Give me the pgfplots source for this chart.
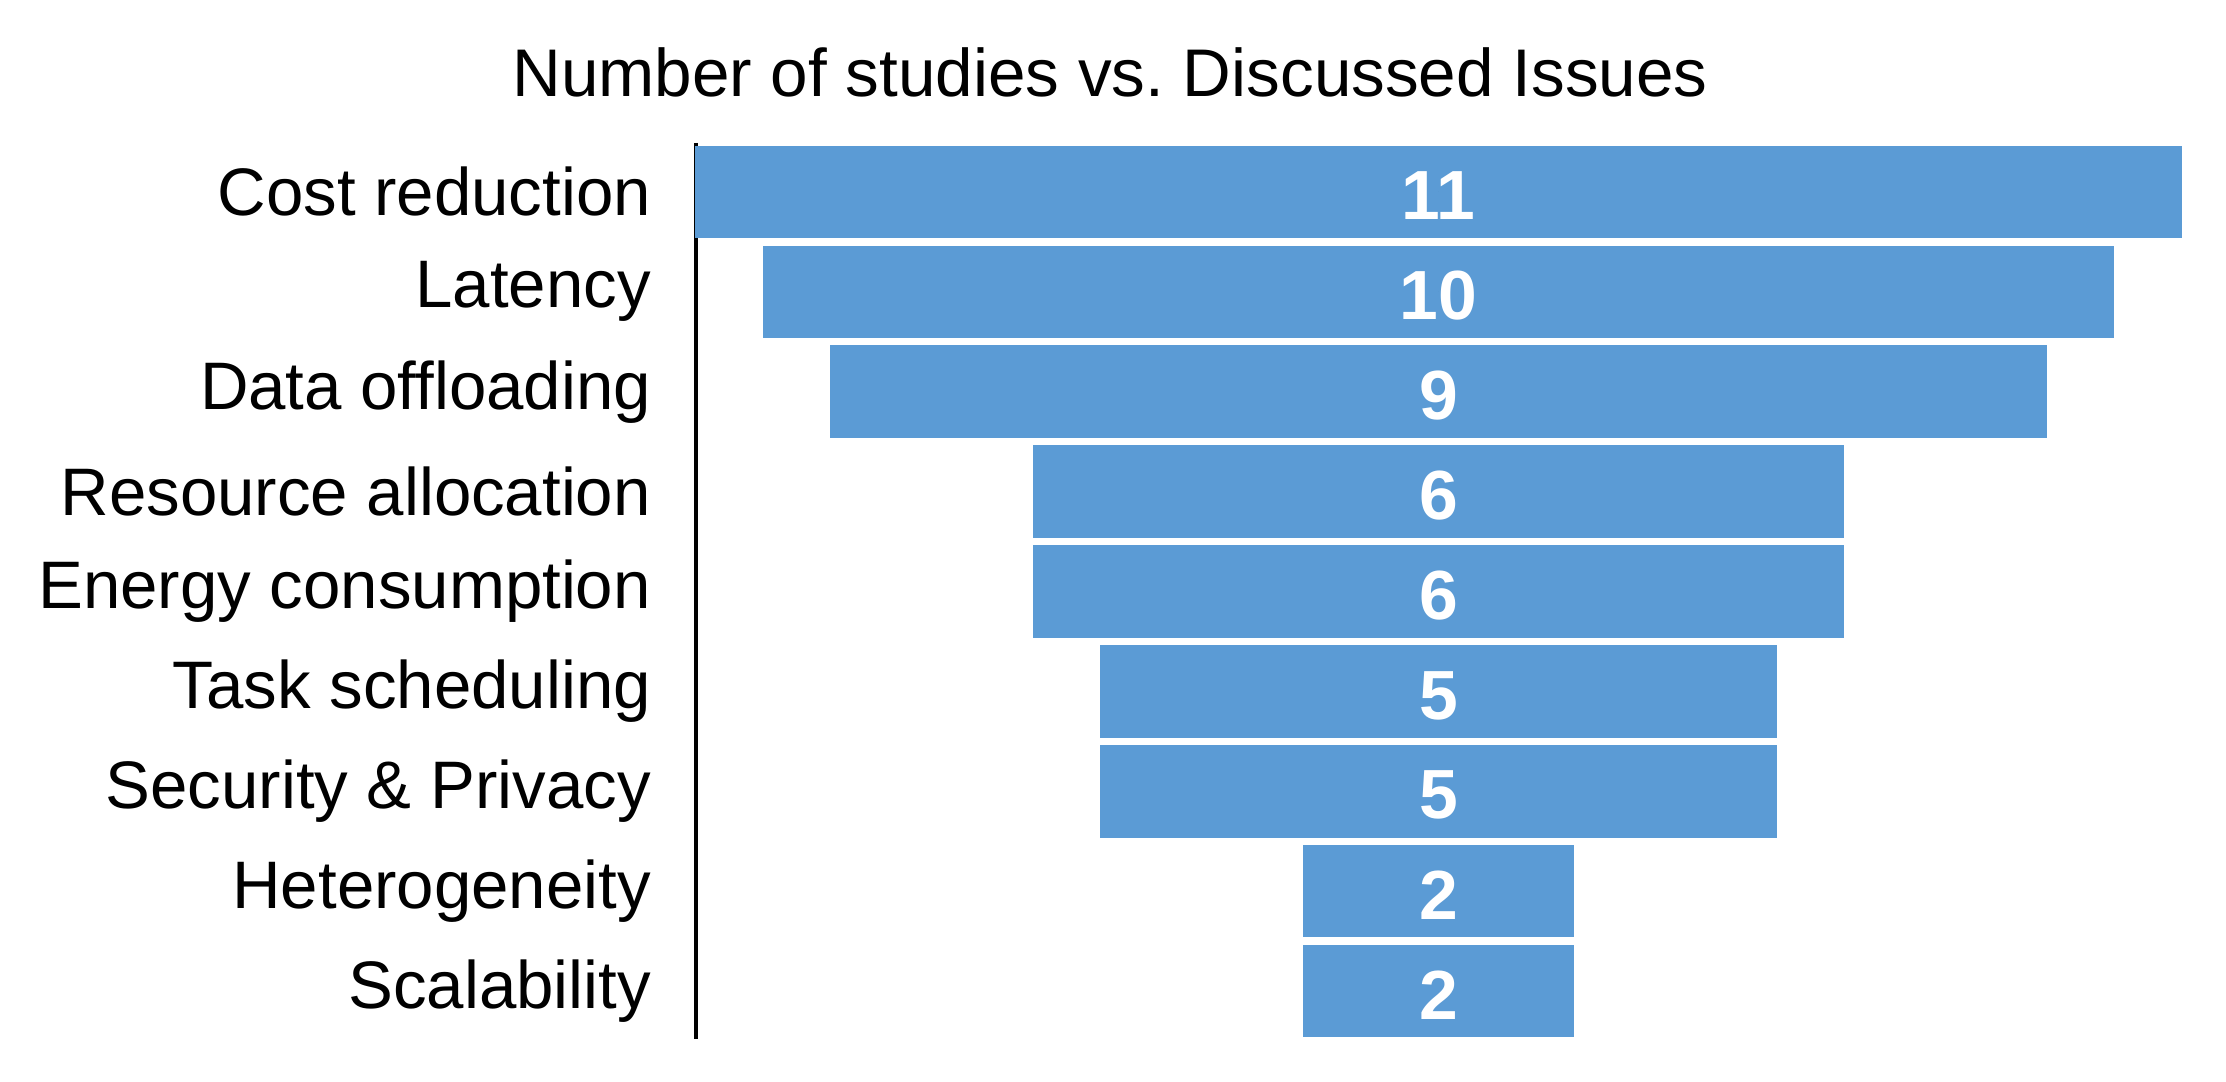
\documentclass[border=0pt]{standalone}
\usepackage{pgfplots}
\pgfplotsset{compat=1.18}
\usepackage{pgfplotstable}
\usepackage{fontspec}
\setmainfont{Liberation Sans}
\definecolor{barblue}{HTML}{5B9BD5}
\pgfplotstableread[col sep=comma]{
idx,v
0,11
1,10
2,9
3,6
4,6
5,5
6,5
7,2
8,2
}\data
\begin{document}
\begin{tikzpicture}
\begin{axis}[
  name=ax,
  scale only axis,
  width=371.25pt, height=224pt,
  xmin=-5.5, xmax=5.5,
  ymin=-0.49, ymax=8.48,
  y dir=reverse,
  hide x axis,
  axis y line*=left,
  y axis line style={black, line width=0.9pt, -},
  ytick={0,...,8},
  yticklabels={Cost reduction, Latency, Data offloading, Resource allocation, Energy consumption, Task scheduling, Security \& Privacy, Heterogeneity, Scalability},
  major tick length=0pt,
  yticklabel style={font=\fontsize{16.8}{20}\selectfont, anchor=east, xshift=-7.75pt},
  clip=false,
]
\addplot[xbar, bar width=0.915, bar shift=0pt, fill=barblue, draw=barblue, line width=0.3pt] table[x expr=\thisrow{v}/2, y=idx] {\data};
\addplot[xbar, bar width=0.915, bar shift=0pt, fill=barblue, draw=barblue, line width=0.3pt] table[x expr=-\thisrow{v}/2, y=idx] {\data};
\addplot[only marks, mark=*, mark size=0pt, mark options={draw=none, fill=none},
  nodes near coords, point meta=explicit symbolic,
  every node near coord/.style={anchor=center, yshift=-1pt, text=white, font=\fontsize{17.4}{20}\selectfont\bfseries}]
  table[x expr=0, y=idx, meta=v] {\data};
\end{axis}
\node[anchor=base, font=\fontsize{16.85}{20}\selectfont] at ([xshift=103.5pt, yshift=11.5pt]ax.north west) {Number of studies vs.\ Discussed Issues};
\pgfresetboundingbox
\path ([xshift=-174pt, yshift=-10.5pt]ax.south west) rectangle ([xshift=11.25pt, yshift=35.75pt]ax.north east);
\end{tikzpicture}
\end{document}
